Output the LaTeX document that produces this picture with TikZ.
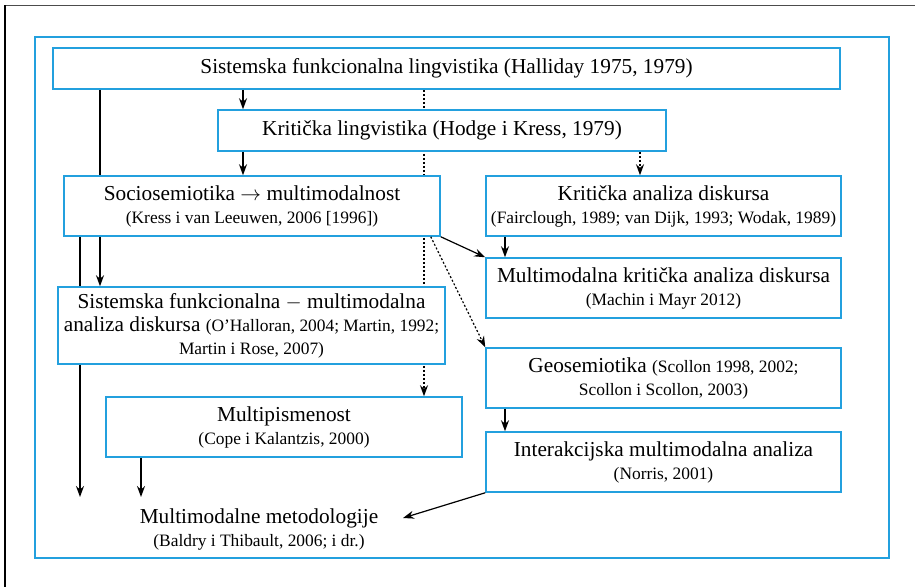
\documentclass[tikz,border=0pt]{standalone}
\usepackage{fontspec}
\setmainfont{Liberation Serif}
\usetikzlibrary{arrows.meta,backgrounds,positioning}
\definecolor{boxblue}{RGB}{35,160,222}
\newcommand{\bigtxt}{\fontsize{21.3}{23}\selectfont}
\newcommand{\reftxt}{\fontsize{17.4}{21}\selectfont}
\tikzset{%
	box/.style     = {draw=boxblue, line width=1.5pt, fill=white, rectangle, align=center, inner sep=0pt, font=\bigtxt},
	plain/.style   = {align=center, font=\bigtxt},
	line/.style    = {line width=1.2pt},
	arrow/.style   = {line width=1.2pt, -{Stealth[length=11pt,width=8pt]}},
	dotline/.style = {dash pattern=on 2pt off 2pt},
}

\begin{document}
\begin{tikzpicture}[x=1pt,y=-1pt]
	\useasboundingbox (0,0) rectangle (915,587);
	\draw[gray!60!black, line width=1.5pt] (4,5.5) -- (915,5.5);
	\draw[line width=1.5pt] (5,5) -- (5,587);
	\draw[draw=boxblue, line width=1.5pt] (35,37) rectangle (889,558);

	\node[box, minimum width=787pt, minimum height=41pt] (sfl) at (446.5,68.5) {Sistemska funkcionalna lingvistika (Halliday 1975, 1979)};
	\node[box, minimum width=448pt, minimum height=41pt] (kl) at (442,130.5) {Kritička lingvistika (Hodge i Kress, 1979)};
	\node[box, minimum width=376pt, minimum height=60pt] (socio) at (252,206) {Sociosemiotika $\rightarrow$ multimodalnost\\{\reftxt (Kress i van Leeuwen, 2006 [1996])}};
	\node[box, minimum width=355pt, minimum height=60pt] (kad) at (663.5,206) {Kritička analiza diskursa\\{\reftxt (Fairclough, 1989; van Dijk, 1993; Wodak, 1989)}};
	\node[box, minimum width=355pt, minimum height=60pt] (mkad) at (663.5,288) {Multimodalna kritička analiza diskursa\\{\reftxt (Machin i Mayr 2012)}};
	\node[box, minimum width=387pt, minimum height=77pt] (sfmad) at (251.5,325.5) {Sistemska funkcionalna $-$ multimodalna\\analiza diskursa {\reftxt (O’Halloran, 2004; Martin, 1992;}\\{\reftxt Martin i Rose, 2007)}};
	\node[box, minimum width=355pt, minimum height=60pt] (geo) at (663.5,378) {Geosemiotika {\reftxt (Scollon 1998, 2002;}\\{\reftxt Scollon i Scollon, 2003)}};
	\node[box, minimum width=356pt, minimum height=60pt] (multip) at (284,427) {Multipismenost\\{\reftxt (Cope i Kalantzis, 2000)}};
	\node[box, minimum width=355pt, minimum height=60pt] (ima) at (663.5,462) {Interakcijska multimodalna analiza\\{\reftxt (Norris, 2001)}};
	\node[plain] (mm) at (259,529) {Multimodalne metodologije\\{\reftxt (Baldry i Thibault, 2006; i dr.)}};

	\coordinate (xa) at (100,0);
	\coordinate (xb) at (80,0);
	\coordinate (xc) at (243,0);
	\coordinate (xd) at (424,0);
	\coordinate (xe) at (640,0);
	\coordinate (xf) at (505,0);
	\coordinate (xg) at (141,0);
	\coordinate (e1) at (80,497);
	\coordinate (e2) at (141,497);
	\coordinate (e3) at (403,518);

	\begin{pgfonlayer}{background}
		\draw[arrow] (socio.south -| xb) -- (e1);
		\draw[arrow, dotline] (sfl.south -| xd) -- (multip.north -| xd);
	\end{pgfonlayer}
	\draw[line] (sfl.south -| xa) -- (socio.north -| xa);
	\draw[arrow] (socio.south -| xa) -- (sfmad.north -| xa);
	\draw[arrow] (sfl.south -| xc) -- (kl.north -| xc);
	\draw[arrow] (kl.south -| xc) -- (socio.north -| xc);
	\draw[arrow, dotline] (kl.south -| xe) -- (kad.north -| xe);
	\draw[arrow] (kad.south -| xf) -- (mkad.north -| xf);
	\draw[arrow] (socio.south east) -- (mkad.north west);
	\draw[arrow, dotline] ([xshift=-10pt]socio.south east) -- (geo.north west);
	\draw[arrow] (geo.south -| xf) -- (ima.north -| xf);
	\draw[arrow] (multip.south -| xg) -- (e2);
	\draw[arrow] (ima.south west) -- (e3);
\end{tikzpicture}
\end{document}
